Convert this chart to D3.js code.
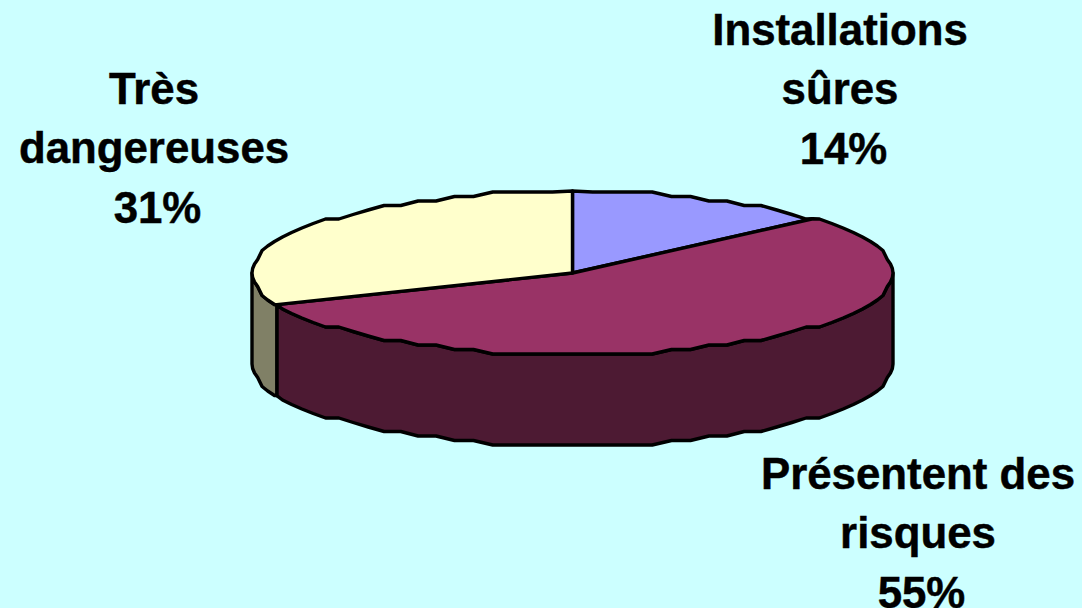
<!DOCTYPE html>
<html><head><meta charset="utf-8">
<script src="https://cdn.jsdelivr.net/npm/d3@7"></script>
<style>html,body{margin:0;padding:0;background:#ccffff;overflow:hidden}svg{display:block}text{font-family:"Liberation Sans",Arial,sans-serif;font-weight:bold;fill:#000;stroke:#000;stroke-width:.45px}</style>
</head><body><svg id="c" width="1082" height="608"></svg>
<script>
const categories = ["Installations sûres","Présentent des risques","Très dangereuses"];
const values = [13.5,55.2,31.3];
const topColors = ["#9999ff","#993366","#ffffcc"];
const sideColors = ["#4d4d80","#4d1a33","#808066"];
const labelLines = [["Installations","sûres","14%"],["Présentent des","risques","55%"],["Très","dangereuses","31%"]];
const labelCentres = [840,918,154];
const labelTops = [45,489,104];
const percentShift = 3.5;

const W=1082,H=608, cx=572.5, cy=273, rx=320.5, ry=82, depth=91;
const svg=d3.select("#c");
svg.append("rect").attr("width",W).attr("height",H).attr("fill","#ccffff");
const x=d3.scaleLinear().domain([-1,1]).range([cx-rx,cx+rx]);
const y=d3.scaleLinear().domain([-1,1]).range([cy-ry,cy+ry]);
const arcs=d3.pie().sort(null).value(d=>d)(values);
const line=d3.line();
const STEP=3.6*Math.PI/180;
const q=(v,s)=>Math.round(v/s)*s;
function pt(a,dy,snap){
  const px=x(Math.sin(a)), py=y(-Math.cos(a));
  return snap?[px,q(py-cy,4.5)+cy+dy]:[px,py+dy];
}
function rim(a0,a1,dy=0){
  const r=[pt(a0,dy,false)];
  for(let k=Math.floor(a0/STEP)+1;k*STEP<a1-1e-6;k++) r.push(pt(k*STEP,dy,true));
  r.push(pt(a1,dy,false));
  return r;
}
const stroke={stroke:"#000","stroke-width":3.4,"stroke-linejoin":"round"};
function draw(points,fill){
  const p=svg.append("path").attr("d",line(points)+"Z").attr("fill",fill);
  Object.entries(stroke).forEach(([k,v])=>p.attr(k,v));
}
arcs.forEach((d,i)=>{
  const a0=Math.max(d.startAngle,Math.PI/2), a1=Math.min(d.endAngle,3*Math.PI/2);
  if(a1<=a0) return;
  draw(rim(a0,a1).concat(rim(a0,a1,depth).reverse()),sideColors[i]);
});
arcs.forEach((d,i)=>{
  draw([[x(0),y(0)],...rim(d.startAngle,d.endAngle)],topColors[i]);
});
labelLines.forEach((ls,i)=>{
  const t=svg.append("text").attr("text-anchor","middle").attr("font-size",43.8);
  ls.forEach((s,j)=>t.append("tspan")
    .attr("x",labelCentres[i]+(j===ls.length-1?percentShift:0))
    .attr("y",labelTops[i]+j*59.3).text(s));
});
</script></body></html>
